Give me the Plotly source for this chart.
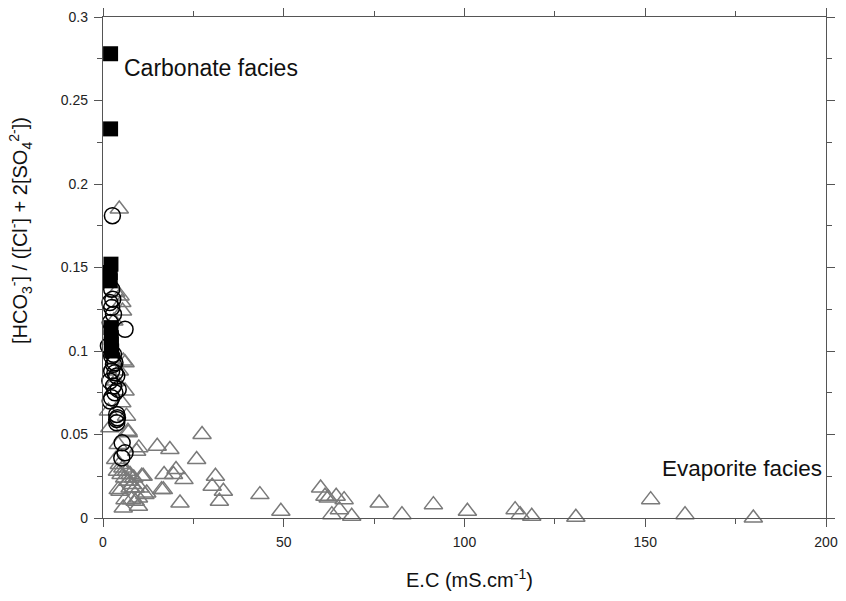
import plotly.graph_objects as go

# ---- data ----
carb_x = [2.1, 2.1, 2.2, 2.0, 2.0, 2.2, 2.3, 2.3, 2.4]
carb_y = [0.278, 0.233, 0.152, 0.147, 0.142, 0.114, 0.108, 0.104, 0.100]

circ_x = [2.6, 2.4, 2.7, 1.9, 2.4, 2.9, 6.1, 2.0, 1.5, 2.4, 2.9, 3.3, 2.9, 2.4, 3.3,
          3.8, 1.9, 2.9, 4.2, 3.3, 2.4, 2.0, 3.8, 3.8, 3.8, 4.0, 5.3, 5.2, 6.1]
circ_y = [0.181, 0.137, 0.131, 0.129, 0.126, 0.122, 0.113, 0.117, 0.103, 0.097, 0.098, 0.093, 0.092, 0.088, 0.087,
          0.085, 0.082, 0.079, 0.077, 0.075, 0.072, 0.070, 0.062, 0.059, 0.057, 0.060, 0.045, 0.036, 0.039]

tri_x = [4.5, 3.5, 4.7, 5.2, 5.4, 3.0, 5.6, 6.1, 4.5, 3.5, 6.1, 5.2, 1.5, 6.5, 1.9, 7.0, 6.9, 4.2, 9.3, 9.9,
         3.5, 4.5, 5.5, 6.5, 7.5, 8.5, 4.0, 5.0, 6.0, 7.0, 8.0, 10.7, 11.1, 4.2, 4.7, 6.1, 5.6, 9.8, 9.8, 7.9,
         8.9, 7.0, 10.2, 11.6, 12.1, 8.9, 7.5,
         15.0, 18.5, 27.4, 25.9, 16.9, 20.2, 19.5, 22.4, 16.7, 16.2, 21.3, 31.1, 30.2, 33.3, 32.2, 43.4, 49.2,
         60.2, 61.4, 62.3, 64.5, 66.7, 63.3, 65.4, 68.8, 76.4, 82.7, 91.4, 100.8, 114.0, 115.4, 118.6, 130.8,
         151.5, 161.0, 179.9]
tri_y = [0.185, 0.135, 0.133, 0.129, 0.124, 0.118, 0.094, 0.093, 0.088, 0.082, 0.076, 0.069, 0.064, 0.061, 0.054, 0.051, 0.052, 0.044, 0.040, 0.042,
         0.035, 0.032, 0.030, 0.028, 0.026, 0.024, 0.028, 0.026, 0.024, 0.022, 0.020, 0.025, 0.025, 0.017, 0.016, 0.011, 0.006, 0.007, 0.012, 0.011,
         0.018, 0.022, 0.018, 0.014, 0.015, 0.010, 0.018,
         0.043, 0.041, 0.050, 0.035, 0.026, 0.029, 0.026, 0.023, 0.017, 0.017, 0.009, 0.025, 0.019, 0.016, 0.010, 0.014, 0.004,
         0.018, 0.013, 0.012, 0.013, 0.011, 0.002, 0.005, 0.001, 0.009, 0.002, 0.008, 0.004, 0.005, 0.002, 0.001, 0.0004,
         0.011, 0.002, 0.0]

x_ticks = [0, 50, 100, 150, 200]
x_tick_labels = ["0", "50", "100", "150", "200"]
y_ticks = [0, 0.05, 0.1, 0.15, 0.2, 0.25, 0.3]
y_tick_labels = ["0", "0.05", "0.1", "0.15", "0.2", "0.25", "0.3"]

FONT = "Liberation Sans, Arial, sans-serif"
AX = "#555555"

fig = go.Figure()
fig.add_trace(go.Scatter(
    x=tri_x, y=tri_y, mode="markers", cliponaxis=False,
    marker=dict(symbol="triangle-up-open", size=16, color="#7a7a7a", line=dict(width=1.5, color="#7a7a7a"))))
fig.add_trace(go.Scatter(
    x=carb_x, y=carb_y, mode="markers", cliponaxis=False,
    marker=dict(symbol="square", size=15, color="black", line=dict(width=0))))
fig.add_trace(go.Scatter(
    x=circ_x, y=circ_y, mode="markers", cliponaxis=False,
    marker=dict(symbol="circle-open", size=16, color="black", line=dict(width=1.5, color="black"))))

axis_common = dict(
    showgrid=False, zeroline=False, showline=True, linecolor=AX, linewidth=1.3,
    ticks="outside", ticklen=8, tickwidth=1.3, tickcolor=AX, mirror="allticks",
    ticklabelstandoff=3, automargin=False,
    tickfont=dict(family=FONT, size=14, color="#222222"),
)
fig.update_xaxes(range=[0, 200], tickvals=x_ticks, ticktext=x_tick_labels,
                 minor=dict(dtick=25, tick0=0, ticklen=5, tickwidth=1.3, tickcolor=AX, ticks="outside", showgrid=False),
                 **axis_common)
fig.update_yaxes(range=[0, 0.3], tickvals=y_ticks, ticktext=y_tick_labels,
                 minor=dict(dtick=0.025, tick0=0, ticklen=5, tickwidth=1.3, tickcolor=AX, ticks="outside", showgrid=False),
                 **axis_common)

def px_to_paper(px, py):
    return (px - 103) / 723.0, (518 - py) / 501.0

ax_, ay_ = px_to_paper(469, 578)
bx_, by_ = px_to_paper(21, 231)
cx_, cy_ = px_to_paper(122, 68)
ex_, ey_ = px_to_paper(824, 468)

fig.update_layout(
    width=846, height=601, autosize=False,
    margin=dict(l=103, r=20, t=17, b=83, pad=0),
    plot_bgcolor="white", paper_bgcolor="white",
    showlegend=False,
    font=dict(family=FONT, color="#111111"),
    annotations=[
        dict(text="E.C (mS.cm<sup>-1</sup>)", x=ax_, y=ay_, xref="paper", yref="paper",
             showarrow=False, xanchor="center", yanchor="middle", font=dict(size=20, family=FONT, color="#111111")),
        dict(text="[HCO<sub>3</sub><sup>-</sup>] / ([Cl<sup>-</sup>] + 2[SO<sub>4</sub><sup>2-</sup>])",
             x=bx_, y=by_, xref="paper", yref="paper", textangle=-90,
             showarrow=False, xanchor="center", yanchor="middle", font=dict(size=20, family=FONT, color="#111111")),
        dict(text="Carbonate facies", x=cx_, y=cy_, xref="paper", yref="paper",
             showarrow=False, xanchor="left", yanchor="middle", font=dict(size=23, family=FONT, color="#111111")),
        dict(text="Evaporite facies", x=ex_, y=ey_, xref="paper", yref="paper",
             showarrow=False, xanchor="right", yanchor="middle", font=dict(size=22.5, family=FONT, color="#111111")),
    ],
)

fig.write_html("out.html", config={"displayModeBar": False},
               post_script="document.body.style.margin='0';document.body.style.overflow='hidden';")
